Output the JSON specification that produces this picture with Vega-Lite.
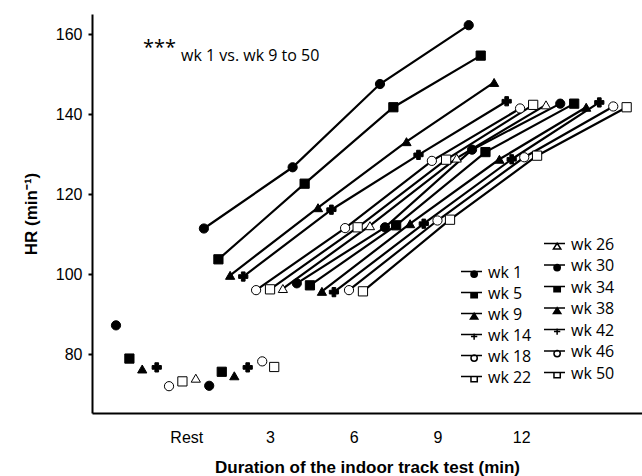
{
  "$schema": "https://vega.github.io/schema/vega-lite/v6.json",
  "autosize": "none",
  "width": 550,
  "height": 399,
  "padding": {"left": 92, "top": 14, "right": 0, "bottom": 63},
  "background": "white",
  "config": {
    "view": {"stroke": null},
    "axis": {
      "domainColor": "black", "domainWidth": 2, "grid": false,
      "labelFont": "Liberation Sans", "labelFontSize": 16, "labelColor": "black",
      "titleFont": "Liberation Sans", "titleFontSize": 17, "titleFontWeight": "bold", "titleColor": "black",
      "tickColor": "black", "tickWidth": 2
    }
  },
  "datasets": {
    "hr": [
      {"week": "wk 1", "phase": "rest", "t": -2.52, "hr": 87.2},
      {"week": "wk 1", "phase": "stage", "t": 0.63, "hr": 111.4},
      {"week": "wk 1", "phase": "stage", "t": 3.81, "hr": 126.7},
      {"week": "wk 1", "phase": "stage", "t": 6.94, "hr": 147.5},
      {"week": "wk 1", "phase": "stage", "t": 10.12, "hr": 162.2},
      {"week": "wk 5", "phase": "rest", "t": -2.04, "hr": 78.9},
      {"week": "wk 5", "phase": "stage", "t": 1.15, "hr": 103.7},
      {"week": "wk 5", "phase": "stage", "t": 4.24, "hr": 122.6},
      {"week": "wk 5", "phase": "stage", "t": 7.42, "hr": 141.7},
      {"week": "wk 5", "phase": "stage", "t": 10.55, "hr": 154.6},
      {"week": "wk 9", "phase": "rest", "t": -1.58, "hr": 76.3},
      {"week": "wk 9", "phase": "stage", "t": 1.57, "hr": 99.7},
      {"week": "wk 9", "phase": "stage", "t": 4.72, "hr": 116.6},
      {"week": "wk 9", "phase": "stage", "t": 7.89, "hr": 133.1},
      {"week": "wk 9", "phase": "stage", "t": 11.03, "hr": 147.9},
      {"week": "wk 14", "phase": "rest", "t": -1.06, "hr": 76.7},
      {"week": "wk 14", "phase": "stage", "t": 2.04, "hr": 99.4},
      {"week": "wk 14", "phase": "stage", "t": 5.2, "hr": 116.1},
      {"week": "wk 14", "phase": "stage", "t": 8.32, "hr": 129.8},
      {"week": "wk 14", "phase": "stage", "t": 11.48, "hr": 143.2},
      {"week": "wk 18", "phase": "rest", "t": -0.62, "hr": 72.0},
      {"week": "wk 18", "phase": "stage", "t": 2.5, "hr": 96.0},
      {"week": "wk 18", "phase": "stage", "t": 5.69, "hr": 111.5},
      {"week": "wk 18", "phase": "stage", "t": 8.8, "hr": 128.3},
      {"week": "wk 18", "phase": "stage", "t": 11.96, "hr": 141.4},
      {"week": "wk 22", "phase": "rest", "t": -0.14, "hr": 73.2},
      {"week": "wk 22", "phase": "stage", "t": 3.0, "hr": 96.2},
      {"week": "wk 22", "phase": "stage", "t": 6.14, "hr": 111.7},
      {"week": "wk 22", "phase": "stage", "t": 9.31, "hr": 128.6},
      {"week": "wk 22", "phase": "stage", "t": 12.43, "hr": 142.3},
      {"week": "wk 26", "phase": "rest", "t": 0.34, "hr": 74.0},
      {"week": "wk 26", "phase": "stage", "t": 3.46, "hr": 96.4},
      {"week": "wk 26", "phase": "stage", "t": 6.58, "hr": 112.1},
      {"week": "wk 26", "phase": "stage", "t": 9.69, "hr": 129.0},
      {"week": "wk 26", "phase": "stage", "t": 12.89, "hr": 142.3},
      {"week": "wk 30", "phase": "rest", "t": 0.82, "hr": 72.1},
      {"week": "wk 30", "phase": "stage", "t": 3.96, "hr": 97.7},
      {"week": "wk 30", "phase": "stage", "t": 7.12, "hr": 111.7},
      {"week": "wk 30", "phase": "stage", "t": 10.24, "hr": 131.1},
      {"week": "wk 30", "phase": "stage", "t": 13.4, "hr": 142.6},
      {"week": "wk 34", "phase": "rest", "t": 1.27, "hr": 75.6},
      {"week": "wk 34", "phase": "stage", "t": 4.43, "hr": 97.2},
      {"week": "wk 34", "phase": "stage", "t": 7.52, "hr": 112.2},
      {"week": "wk 34", "phase": "stage", "t": 10.72, "hr": 130.5},
      {"week": "wk 34", "phase": "stage", "t": 13.9, "hr": 142.6},
      {"week": "wk 38", "phase": "rest", "t": 1.72, "hr": 74.6},
      {"week": "wk 38", "phase": "stage", "t": 4.86, "hr": 95.7},
      {"week": "wk 38", "phase": "stage", "t": 8.02, "hr": 112.6},
      {"week": "wk 38", "phase": "stage", "t": 11.22, "hr": 128.7},
      {"week": "wk 38", "phase": "stage", "t": 14.33, "hr": 141.7},
      {"week": "wk 42", "phase": "rest", "t": 2.2, "hr": 76.7},
      {"week": "wk 42", "phase": "stage", "t": 5.29, "hr": 95.5},
      {"week": "wk 42", "phase": "stage", "t": 8.51, "hr": 112.6},
      {"week": "wk 42", "phase": "stage", "t": 11.66, "hr": 128.7},
      {"week": "wk 42", "phase": "stage", "t": 14.8, "hr": 142.9},
      {"week": "wk 46", "phase": "rest", "t": 2.72, "hr": 78.2},
      {"week": "wk 46", "phase": "stage", "t": 5.83, "hr": 96.0},
      {"week": "wk 46", "phase": "stage", "t": 9.0, "hr": 113.4},
      {"week": "wk 46", "phase": "stage", "t": 12.11, "hr": 129.2},
      {"week": "wk 46", "phase": "stage", "t": 15.3, "hr": 141.9},
      {"week": "wk 50", "phase": "rest", "t": 3.15, "hr": 76.8},
      {"week": "wk 50", "phase": "stage", "t": 6.33, "hr": 95.7},
      {"week": "wk 50", "phase": "stage", "t": 9.45, "hr": 113.6},
      {"week": "wk 50", "phase": "stage", "t": 12.57, "hr": 129.6},
      {"week": "wk 50", "phase": "stage", "t": 15.78, "hr": 141.7}
    ]
  },
  "data": {"name": "hr"},
  "encoding": {
    "x": {
      "field": "t", "type": "quantitative",
      "scale": {"domain": [-3.38, 16.33], "nice": false, "zero": false},
      "axis": {
        "values": [0, 3, 6, 9, 12], "ticks": false,
        "labelExpr": "datum.value === 0 ? 'Rest' : datum.label",
        "labelPadding": 16, "title": "Duration of the indoor track test (min)", "titlePadding": 14
      }
    },
    "y": {
      "field": "hr", "type": "quantitative",
      "scale": {"domain": [65.3, 165], "nice": false, "zero": false},
      "axis": {
        "values": [80, 100, 120, 140, 160], "tickSize": 4, "labelPadding": 6,
        "title": "HR (min⁻¹)", "titlePadding": 15
      }
    }
  },
  "layer": [
    {
      "transform": [{"filter": "datum.phase === 'stage'"}],
      "mark": {"type": "line", "color": "black", "strokeWidth": 2.2},
      "encoding": {"detail": {"field": "week"}}
    },
    {
      "mark": {"type": "point", "filled": true, "stroke": "black", "strokeWidth": 1, "size": 85, "opacity": 1},
      "encoding": {
        "shape": {
          "field": "week", "type": "nominal", "legend": null,
          "scale": {
            "domain": ["wk 1","wk 5","wk 9","wk 14","wk 18","wk 22","wk 26","wk 30","wk 34","wk 38","wk 42","wk 46","wk 50"],
            "range": ["circle","square","triangle-up","cross","circle","square","triangle-up","circle","square","triangle-up","cross","circle","square"]
          }
        },
        "fill": {
          "field": "week", "type": "nominal", "legend": null,
          "scale": {
            "domain": ["wk 1","wk 5","wk 9","wk 14","wk 18","wk 22","wk 26","wk 30","wk 34","wk 38","wk 42","wk 46","wk 50"],
            "range": ["black","black","black","black","white","white","white","black","black","black","black","white","white"]
          }
        }
      }
    },
    {
      "transform": [{"filter": "false"}],
      "mark": {"type": "point", "filled": true, "stroke": "black", "strokeWidth": 1.5, "size": 441, "opacity": 1},
      "encoding": {
        "shape": {
          "field": "week", "type": "nominal",
          "scale": {
            "domain": ["wk 1","wk 5","wk 9","wk 14","wk 18","wk 22"],
            "range": [
              "M-1,-0.1H1M0.55,0.15A0.3,0.3 0 1 1 -0.05,0.15A0.3,0.3 0 1 1 0.55,0.15Z",
              "M-1,-0.1H1M-0.05,-0.1H0.55V0.4H-0.05Z",
              "M-1,-0.1H1M0.25,-0.12L0.6,0.42H-0.1Z",
              "M-1,-0.1H1M0.25,-0.2V0.4M-0.05,0.1H0.55",
              "M-1,-0.1H1M0.55,0.15A0.3,0.3 0 1 1 -0.05,0.15A0.3,0.3 0 1 1 0.55,0.15Z",
              "M-1,-0.1H1M-0.05,-0.1H0.55V0.4H-0.05Z"
            ]
          },
          "legend": {"title": null, "orient": "none", "legendX": 368, "legendY": 247, "padding": 0, "symbolSize": 441, "rowPadding": 1, "labelOffset": 5, "labelFont": "Open Sans", "labelFontSize": 16, "labelColor": "black", "symbolOpacity": 1, "encode": {"symbols": {"update": {"stroke": {"value": "black"}, "strokeWidth": {"value": 1.6}, "opacity": {"value": 1}, "strokeOpacity": {"value": 1}, "fillOpacity": {"value": 1}}}}}
        },
        "fill": {
          "field": "week", "type": "nominal",
          "scale": {"domain": ["wk 1","wk 5","wk 9","wk 14","wk 18","wk 22"], "range": ["black","black","black","black","white","white"]},
          "legend": {"title": null, "orient": "none", "legendX": 368, "legendY": 247, "padding": 0, "symbolSize": 441, "rowPadding": 1, "labelOffset": 5, "labelFont": "Open Sans", "labelFontSize": 16, "labelColor": "black", "symbolOpacity": 1, "encode": {"symbols": {"update": {"stroke": {"value": "black"}, "strokeWidth": {"value": 1.6}, "opacity": {"value": 1}, "strokeOpacity": {"value": 1}, "fillOpacity": {"value": 1}}}}}
        }
      }
    },
    {
      "transform": [{"filter": "false"}],
      "mark": {"type": "point", "filled": true, "stroke": "black", "strokeWidth": 1.5, "size": 441, "opacity": 1},
      "encoding": {
        "shape": {
          "field": "week", "type": "nominal",
          "scale": {
            "domain": ["wk 26","wk 30","wk 34","wk 38","wk 42","wk 46","wk 50"],
            "range": [
              "M-1,-0.1H1M0.25,-0.12L0.6,0.42H-0.1Z",
              "M-1,-0.1H1M0.55,0.15A0.3,0.3 0 1 1 -0.05,0.15A0.3,0.3 0 1 1 0.55,0.15Z",
              "M-1,-0.1H1M-0.05,-0.1H0.55V0.4H-0.05Z",
              "M-1,-0.1H1M0.25,-0.12L0.6,0.42H-0.1Z",
              "M-1,-0.1H1M0.25,-0.2V0.4M-0.05,0.1H0.55",
              "M-1,-0.1H1M0.55,0.15A0.3,0.3 0 1 1 -0.05,0.15A0.3,0.3 0 1 1 0.55,0.15Z",
              "M-1,-0.1H1M-0.05,-0.1H0.55V0.4H-0.05Z"
            ]
          },
          "legend": {"title": null, "orient": "none", "legendX": 451, "legendY": 219, "padding": 0, "symbolSize": 441, "rowPadding": 1.5, "labelOffset": 5, "labelFont": "Open Sans", "labelFontSize": 16, "labelColor": "black", "symbolOpacity": 1, "encode": {"symbols": {"update": {"stroke": {"value": "black"}, "strokeWidth": {"value": 1.6}, "opacity": {"value": 1}, "strokeOpacity": {"value": 1}, "fillOpacity": {"value": 1}}}}}
        },
        "fill": {
          "field": "week", "type": "nominal",
          "scale": {"domain": ["wk 26","wk 30","wk 34","wk 38","wk 42","wk 46","wk 50"], "range": ["white","black","black","black","black","white","white"]},
          "legend": {"title": null, "orient": "none", "legendX": 451, "legendY": 219, "padding": 0, "symbolSize": 441, "rowPadding": 1.5, "labelOffset": 5, "labelFont": "Open Sans", "labelFontSize": 16, "labelColor": "black", "symbolOpacity": 1, "encode": {"symbols": {"update": {"stroke": {"value": "black"}, "strokeWidth": {"value": 1.6}, "opacity": {"value": 1}, "strokeOpacity": {"value": 1}, "fillOpacity": {"value": 1}}}}}
        }
      }
    },
    {
      "data": {"values": [{"t": -1.55, "hr": 156.6, "label": "***"}]},
      "mark": {"type": "text", "align": "left", "baseline": "middle", "font": "Open Sans", "fontSize": 20, "color": "black"},
      "encoding": {"text": {"field": "label"}}
    },
    {
      "data": {"values": [{"t": -0.19, "hr": 154.5, "label": "wk 1 vs. wk 9 to 50"}]},
      "mark": {"type": "text", "align": "left", "baseline": "middle", "font": "Open Sans", "fontSize": 16, "color": "black"},
      "encoding": {"text": {"field": "label"}}
    }
  ],
  "resolve": {"scale": {"shape": "independent", "fill": "independent"}}
}
